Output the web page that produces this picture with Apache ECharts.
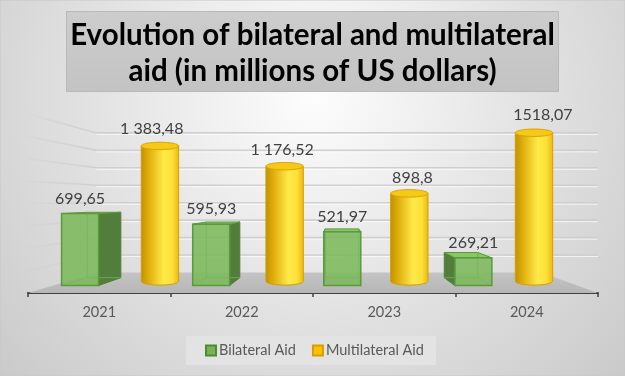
<!DOCTYPE html>
<html>
<head>
<meta charset="utf-8">
<script src="https://cdn.jsdelivr.net/npm/echarts@6/dist/echarts.min.js"></script>
<style>
html,body{margin:0;padding:0;background:#fff;}
#chart{width:625px;height:376px;}
</style>
</head>
<body>
<div id="chart"></div>
<script>
// ---- data ----
const years = ['2021', '2022', '2023', '2024'];
const bilateral = [699.65, 595.93, 521.97, 269.21];
const multilateral = [1383.48, 1176.52, 898.8, 1518.07];
const bilateralLabels = ['699,65', '595,93', '521,97', '269,21'];
const multilateralLabels = ['1 383,48', '1 176,52', '898,8', '1518,07'];
const gridValues = [0, 200, 400, 600, 800, 1000, 1200, 1400, 1600];
const seriesNames = ['Bilateral Aid', 'Multilateral Aid'];
const titleText = 'Evolution of bilateral and multilateral\naid (in millions of US dollars)';

// ---- perspective styling ----
const VXF = 0.547, VYF = 0.48;     // vanishing point as fraction of plot
const KW = 0.78;                    // back wall depth
const KGF = 0.92, KGB = 0.835;      // green box front/back depth
const KC = 0.875;                   // cylinder depth
const KLG = 0.92, KLC = 0.915;      // label depths
const OFF_G = -0.293, OFF_C = 0.2455; // offsets (fraction of band)
const W_G = 0.282, W_C = 0.30;      // widths (fraction of band)
const FONT = 'Lato';

function vpOf(cs) { return [cs.x + VXF * cs.width, cs.y + VYF * cs.height]; }
function proj(vp, x, y, k) { return [vp[0] + (x - vp[0]) * k, vp[1] + (y - vp[1]) * k]; }

function renderWalls(params, api) {
  const v = api.value(1);
  const cs = params.coordSys;
  const vp = vpOf(cs);
  const y = api.coord([0, v])[1];
  const left = cs.x, right = cs.x + cs.width;
  const a = [left, y], b = proj(vp, left, y, KW), c = [right, b[1]];
  const children = [];
  if (v === 0) {
    const br = proj(vp, right, y, KW);
    children.push({
      type: 'polygon', shape: { points: [[left, y], b, br, [right, y]] },
      style: { fill: { type: 'linear', x: 0, y: 0, x2: 0, y2: 1, colorStops: [{ offset: 0, color: '#c4c4c4' }, { offset: 1, color: '#b6b6b6' }] }, stroke: null }
    });
  } else {
    const wallGrad = { type: 'linear', x: 0, y: 0, x2: 1, y2: 0, colorStops: [
      { offset: 0, color: 'rgba(205,205,205,0.15)' }, { offset: 1, color: 'rgba(205,205,205,0.95)' } ] };
    children.push({
      type: 'polyline', shape: { points: [a, b] },
      style: { stroke: wallGrad, lineWidth: 1.6, fill: null }
    });
    children.push({
      type: 'polyline', shape: { points: [b, c] },
      style: { stroke: 'rgba(205,205,205,0.95)', lineWidth: 1.6, fill: null }
    });
    children.push({
      type: 'polyline', shape: { points: [[b[0], b[1] + 1.5], [c[0], c[1] + 1.5]] },
      style: { stroke: 'rgba(255,255,255,0.7)', lineWidth: 1, fill: null }
    });
  }
  return { type: 'group', children };
}

function renderBoxes(params, api) {
  const i = api.value(0), v = api.value(1);
  const cs = params.coordSys;
  const vp = vpOf(cs);
  const c0 = api.coord([i, 0]), c1 = api.coord([i, v]);
  const bw = api.size([1, 0])[0];
  const xc = c0[0] + OFF_G * bw, hw = W_G * bw / 2;
  const L = xc - hw, R = xc + hw, B = c0[1], T = c1[1];
  const F = [proj(vp, L, T, KGF), proj(vp, R, T, KGF), proj(vp, R, B, KGF), proj(vp, L, B, KGF)];
  const K = [proj(vp, L, T, KGB), proj(vp, R, T, KGB), proj(vp, R, B, KGB), proj(vp, L, B, KGB)];
  const rightSide = xc < vp[0];
  const side = rightSide ? [F[1], K[1], K[2], F[2]] : [F[0], K[0], K[3], F[3]];
  const inner = rightSide ? [F[3], K[3], K[0]] : [F[2], K[2], K[1]];
  const innerB = rightSide ? [K[3], K[2]] : [K[2], K[3]];
  const stroke = '#5a9a3a';
  const children = [
    { type: 'polygon', shape: { points: side }, style: { fill: '#517f3b', stroke: '#4d7f36', lineWidth: 1 } },
    { type: 'polygon', shape: { points: [F[0], F[1], K[1], K[0]] }, style: { fill: '#8ac46b', stroke: stroke, lineWidth: 1 } },
    { type: 'polyline', shape: { points: inner }, style: { stroke: '#6aa64a', lineWidth: 1, fill: null } },
    { type: 'polyline', shape: { points: innerB }, style: { stroke: '#6aa64a', lineWidth: 1, fill: null } },
    { type: 'polygon', shape: { points: F }, style: { fill: 'rgba(124,184,92,0.88)', stroke: stroke, lineWidth: 1.5 } }
  ];
  const lp = proj(vp, xc, T, KLG);
  children.push({
    type: 'text',
    style: { text: bilateralLabels[i], x: lp[0], y: lp[1] - 15, align: 'center', verticalAlign: 'middle',
      fill: '#404040', font: '16px ' + FONT }
  });
  return { type: 'group', children };
}

function renderCylinders(params, api) {
  const i = api.value(0), v = api.value(1);
  const cs = params.coordSys;
  const vp = vpOf(cs);
  const c0 = api.coord([i, 0]), c1 = api.coord([i, v]);
  const bw = api.size([1, 0])[0];
  const xb = c0[0] + OFF_C * bw, r = W_C * bw / 2;
  const top = proj(vp, xb, c1[1], KC), bot = proj(vp, xb, c0[1], KC);
  const rx = r * KC, ry = rx * 0.2;
  const cx = top[0];
  const path = 'M' + (cx - rx) + ',' + top[1] + ' L' + (cx - rx) + ',' + bot[1] +
    ' A' + rx + ',' + ry + ' 0 0 0 ' + (cx + rx) + ',' + bot[1] +
    ' L' + (cx + rx) + ',' + top[1] + ' Z';
  const grad = { type: 'linear', x: 0, y: 0, x2: 1, y2: 0, colorStops: [
    { offset: 0, color: '#c08f04' }, { offset: 0.18, color: '#dcaa08' },
    { offset: 0.6, color: '#ffea48' }, { offset: 0.82, color: '#fde03a' }, { offset: 1, color: '#eab70e' } ] };
  const lp = proj(vp, xb, c1[1], KLC);
  return { type: 'group', children: [
    { type: 'path', shape: { pathData: path }, style: { fill: grad, stroke: '#d4a000', lineWidth: 1 } },
    { type: 'ellipse', shape: { cx: cx, cy: top[1], rx: rx, ry: ry }, style: { fill: '#f6c817', stroke: '#d9a600', lineWidth: 1 } },
    { type: 'text', style: { text: multilateralLabels[i], x: lp[0], y: lp[1] - 15, align: 'center', verticalAlign: 'middle',
      fill: '#404040', font: '16px ' + FONT } }
  ] };
}

const chart = echarts.init(document.getElementById('chart'), null, { renderer: 'canvas' });
chart.setOption({
  animation: false,
  graphic: { elements: [
    { type: 'rect', z: -100, shape: { x: 0, y: 0, width: 625, height: 376 },
      style: { fill: { type: 'radial', x: 0.5, y: 0.25, r: 1.2, colorStops: [
        { offset: 0, color: '#fdfdfd' }, { offset: 1, color: '#c6c6c6' } ] }, stroke: '#c8c8c8', lineWidth: 1 } },
    { type: 'rect', z: -50, shape: { x: 66.5, y: 11.5, width: 492, height: 80 },
      style: { fill: { type: 'linear', x: 0, y: 0, x2: 0, y2: 1, colorStops: [
        { offset: 0, color: '#cdcdcd' }, { offset: 1, color: '#c3c3c3' } ] }, stroke: '#b9b9b9', lineWidth: 1 } }
  ] },
  title: {
    text: titleText, left: 'center', top: 12,
    textStyle: { fontFamily: FONT, fontWeight: 'bold', fontSize: 29.5, lineHeight: 36, color: '#000' }
  },
  legend: {
    data: seriesNames, left: 186, top: 336, orient: 'horizontal',
    backgroundColor: '#e3e3e3', padding: [7, 12, 7, 19], itemGap: 16,
    itemWidth: 10, itemHeight: 10, icon: 'rect',
    textStyle: { fontFamily: FONT, fontSize: 14.5, lineHeight: 15, color: '#595959', padding: [0, 0, 0, -2] }
  },
  grid: { left: 28, right: 27, top: 114, bottom: 83 },
  xAxis: {
    type: 'category', data: years, boundaryGap: true,
    axisLine: { lineStyle: { color: '#404040', width: 2 } },
    axisTick: { show: true, length: 4, lineStyle: { color: '#404040', width: 1.5 } },
    axisLabel: { fontFamily: FONT, fontSize: 14.5, color: '#595959', margin: 12 },
    splitLine: { show: false }
  },
  yAxis: { type: 'value', min: 0, max: 1600, interval: 200, show: false, splitLine: { show: false } },
  series: [
    { type: 'custom', name: 'walls', z: 1, silent: true, renderItem: renderWalls,
      data: gridValues.map(v => [0, v]), encode: { x: 0, y: 1 } },
    { type: 'custom', name: seriesNames[1], z: 3, renderItem: renderCylinders,
      itemStyle: { color: '#ffc000', borderColor: '#d4a000', borderWidth: 1 },
      data: multilateral.map((v, i) => [i, v]), encode: { x: 0, y: 1 } },
    { type: 'custom', name: seriesNames[0], z: 4, renderItem: renderBoxes,
      itemStyle: { color: '#78b356', borderColor: '#4e8a32', borderWidth: 1 },
      data: bilateral.map((v, i) => [i, v]), encode: { x: 0, y: 1 } }
  ]
});
</script>
</body>
</html>
